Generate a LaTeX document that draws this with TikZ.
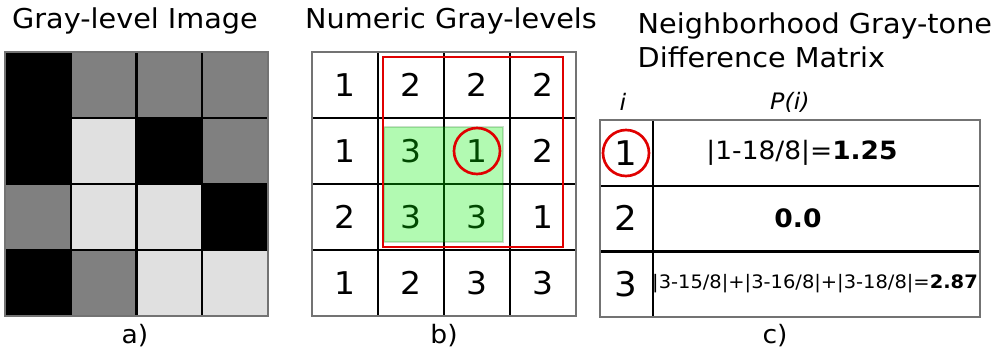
\documentclass[tikz,border=0pt]{standalone}
\usepackage{fontspec}
\setmainfont[FakeStretch=1.05]{DejaVu Sans}
\usetikzlibrary{positioning}
\definecolor{lvl1}{HTML}{000000}
\definecolor{lvl2}{HTML}{808080}
\definecolor{lvl3}{HTML}{E0E0E0}
\definecolor{ring}{HTML}{E00000}
\definecolor{patch}{HTML}{00F000}
\begin{document}
\begin{tikzpicture}[x=0.75pt,y=-0.75pt,
  cellline/.style={draw=black,line width=1.8pt},
  frame/.style={draw=black!55,line width=1.3pt},
  title/.style={font=\fontsize{20.5}{25.5}\selectfont},
  caption/.style={font=\fontsize{19}{22}\selectfont},
  num/.style={font=\fontsize{23.5}{28}\selectfont},
  bignum/.style={font=\fontsize{25.5}{30}\selectfont},
  head/.style={font=\fontsize{17}{20}\selectfont\itshape},
  hl/.style={circle,draw=ring,line width=2pt,minimum size=34.5pt,inner sep=0pt}]
\useasboundingbox (0,0) rectangle (999,351);
% titles
\node[title] (ta) at (135,21) {Gray-level Image};
\node[title] (tb) at (451,21) {Numeric Gray-levels};
\node[title,align=left,anchor=north west] (tc) at (633,8) {Neighborhood Gray-tone\\Difference Matrix};
% a) and b): the 4x4 grids
\foreach \row [count=\r from 0] in {{1,2,2,2},{1,3,1,2},{2,3,3,1},{1,2,3,3}}
  \foreach \v [count=\c from 0] in \row {
    \draw[cellline,fill=lvl\v] (5+65.75*\c,52+66*\r) rectangle ++(65.75,66);
    \draw[cellline] (312+66*\c,52+66*\r) rectangle ++(66,66);
    \node[num] (b\r\c) at (345+66*\c,85+66*\r) {\v};
  }
\draw[frame] (5,52) rectangle (268,316);
\draw[frame] (312,52) rectangle (576,316);
% neighbourhood of the centre pixel
\fill[patch,opacity=.3] (384,127) rectangle (503,242);
\draw[green!40!black,opacity=.2,line width=1.2pt] (384,127) rectangle (503,242);
\draw[ring,line width=2pt] (383,57) rectangle (563,247);
\node[hl] (hb) at (b12) {};
% c) table
\node[head] (hi) at (623,102) {i};
\node[head] (hp) at (790,102) {P(i)};
\foreach \r in {0,1,2}
  \draw[cellline] (600,120+65.7*\r) rectangle (653,185.7+65.7*\r)
                  (653,120+65.7*\r) rectangle (980,185.7+65.7*\r);
\draw[frame] (600,120) rectangle (980,317);
\node[bignum] (i1) at (626,153) {1};
\node[bignum] (i2) at (626,218) {2};
\node[bignum] (i3) at (626,284) {3};
\node[font=\fontsize{18.9}{22}\selectfont] (p1) at (802,153) {|1-18/8|=\textbf{1.25}};
\node[font=\fontsize{19}{22}\selectfont] (p2) at (798,218) {\textbf{0.0}};
\node[font=\fontsize{13.9}{17}\selectfont] (p3) at (815,284) {|3-15/8|+|3-16/8|+|3-18/8|=\textbf{2.87}};
\node[hl] (hc) at (i1) {};
% captions
\node[caption] (ca) at (135,336) {a)};
\node[caption] (cb) at (444,336) {b)};
\node[caption] (cc) at (775,336) {c)};
\end{tikzpicture}
\end{document}
